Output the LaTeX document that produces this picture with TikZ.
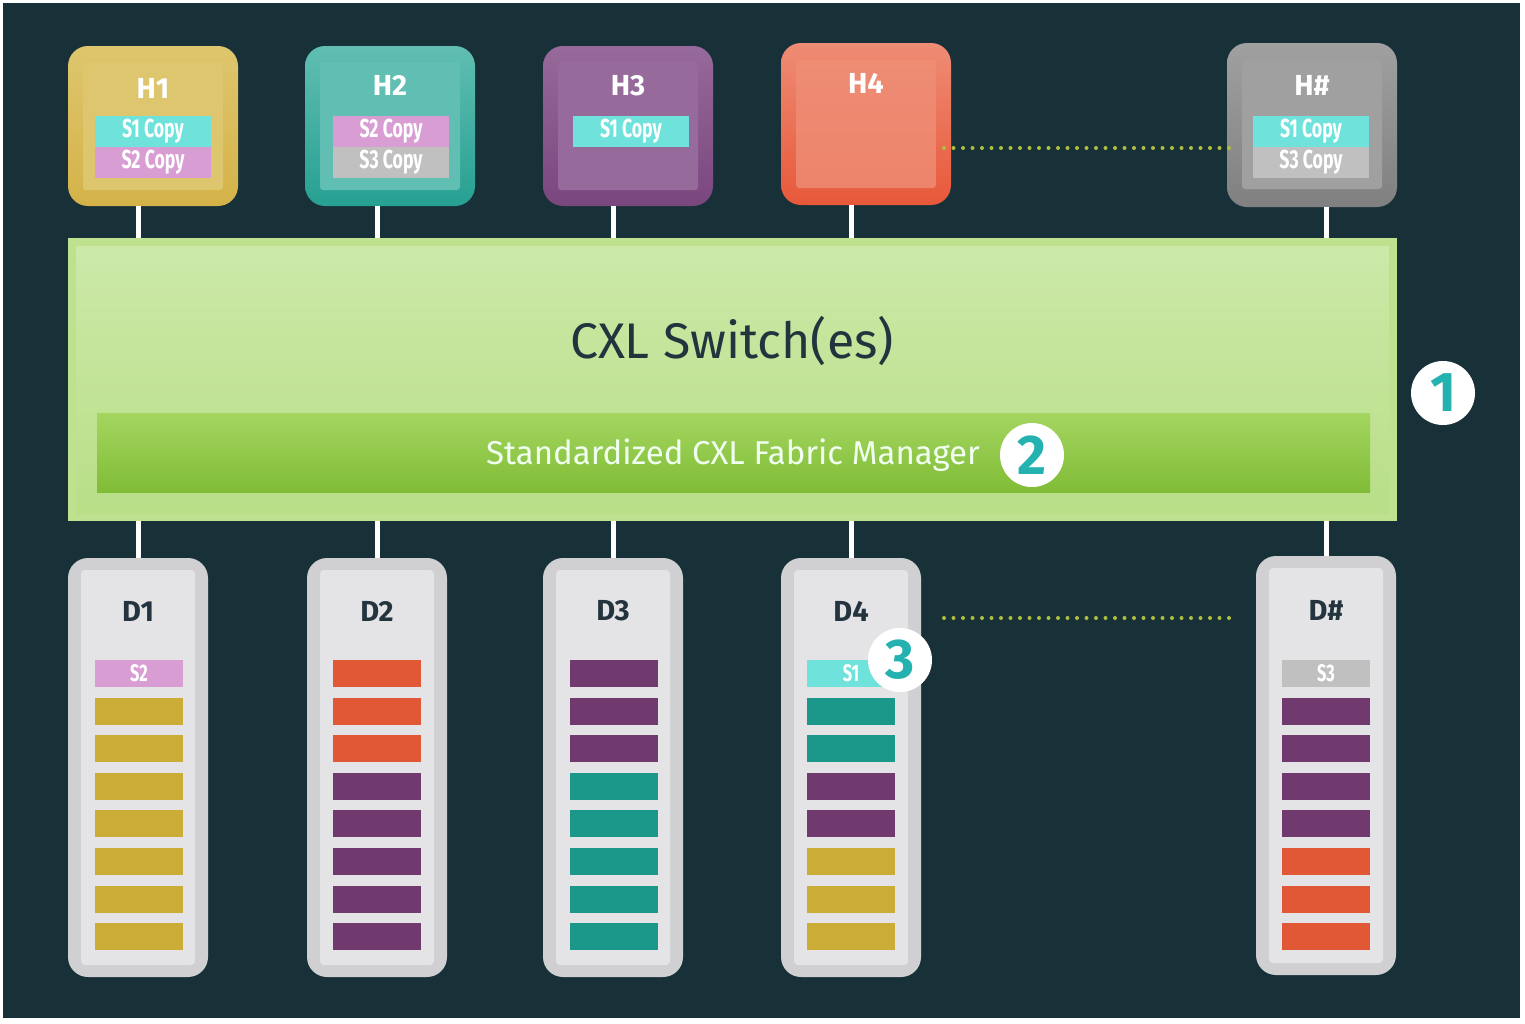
\documentclass[tikz,border=0pt]{standalone}
\usepackage{fontspec}
\setmainfont{Fira Sans}
\usetikzlibrary{positioning}
\definecolor{bgdark}{RGB}{24,49,56}
\definecolor{hyel}{RGB}{212,178,72}
\definecolor{hyelin}{RGB}{222,198,110}
\definecolor{hteal}{RGB}{38,160,146}
\definecolor{htealin}{RGB}{96,190,178}
\definecolor{hpur}{RGB}{122,70,126}
\definecolor{hpurin}{RGB}{150,106,154}
\definecolor{hred}{RGB}{232,88,58}
\definecolor{hredin}{RGB}{238,140,116}
\definecolor{hgray}{RGB}{128,128,128}
\definecolor{hgrayin}{RGB}{160,160,160}
\definecolor{scyan}{RGB}{112,226,220}
\definecolor{spink}{RGB}{216,158,212}
\definecolor{sgray}{RGB}{192,192,192}
\definecolor{yl}{RGB}{202,172,54}
\definecolor{og}{RGB}{224,88,54}
\definecolor{pu}{RGB}{112,58,110}
\definecolor{te}{RGB}{28,152,138}
\definecolor{devout}{RGB}{208,208,210}
\definecolor{devin}{RGB}{228,228,230}
\definecolor{swtop}{RGB}{204,233,168}
\definecolor{swbot}{RGB}{176,218,122}
\definecolor{fmtop}{RGB}{164,214,96}
\definecolor{fmbot}{RGB}{128,188,54}
\definecolor{inkdark}{RGB}{36,52,62}
\definecolor{badgeink}{RGB}{36,178,176}
\definecolor{dotcol}{RGB}{176,190,64}
\newcommand\cond[1]{\scalebox{0.68}[1]{#1}}
\begin{document}
\begin{tikzpicture}[x=1pt,y=-1pt,
    host/.style={rounded corners=20pt, minimum width=170pt, minimum height=160pt, inner sep=0pt},
    hostin/.style={rounded corners=3pt, minimum width=140pt, minimum height=128pt, inner sep=0pt},
    hlabel/.style={text=white, font=\fontsize{29}{29}\selectfont\bfseries},
    strip/.style={minimum width=116pt, minimum height=31pt, inner sep=0pt, text=white,
        font=\fontsize{26}{26}\selectfont\bfseries},
    device/.style={rounded corners=20pt, fill=devout, minimum width=140pt, minimum height=419pt, inner sep=0pt},
    devicein/.style={rounded corners=4pt, fill=devin, minimum width=114pt, minimum height=395pt, inner sep=0pt},
    dlabel/.style={text=inkdark, font=\fontsize{29}{29}\selectfont\bfseries},
    slotlab/.style={minimum width=88pt, minimum height=27pt, inner sep=0pt, text=white,
        font=\fontsize{24}{24}\selectfont\bfseries},
    badge/.style={circle, fill=white, minimum size=64pt, inner sep=0pt, text=badgeink,
        font=\fontsize{56}{56}\selectfont\bfseries},
    link/.style={white, line width=5pt},
    dots/.style={dotcol, line width=4pt, line cap=round, dash pattern=on 0pt off 9.5pt}]
\useasboundingbox (0,0) rectangle (1525,1023);
\fill[white] (0,0) rectangle (1525,1023);
\fill[bgdark] (3,3) rectangle (1520,1018);

% hosts
\node[host, top color=hyelin, bottom color=hyel] (h1) at (153,126) {};
\node[hostin, fill=hyelin] at (153,126) {};
\node[host, top color=htealin, bottom color=hteal] (h2) at (390,126) {};
\node[hostin, fill=htealin] at (390,126) {};
\node[host, top color=hpurin, bottom color=hpur] (h3) at (628,126) {};
\node[hostin, fill=hpurin] at (628,126) {};
\node[host, top color=hredin, bottom color=hred, minimum height=162pt] (h4) at (866,124) {};
\node[hostin, top color=hredin, bottom color=hredin!85!hred] at (866,124) {};
\node[host, top color=hgrayin, bottom color=hgray, minimum height=164pt] (hx) at (1312,125) {};
\node[hostin, fill=hgrayin] at (1312,125) {};

\node[hlabel] (h1l) at (153,88) {H1};
\node[hlabel] (h2l) at (390,85) {H2};
\node[hlabel] (h3l) at (628,86) {H3};
\node[hlabel] (h4l) at (866,83) {H4};
\node[hlabel] (hxl) at (1312,85) {H\#};

\node[strip, fill=scyan] (h1a) at (153,131) {\cond{S1 Copy}};
\node[strip, fill=spink] (h1b) at (153,162) {\cond{S2 Copy}};
\node[strip, fill=spink] (h2a) at (391,131) {\cond{S2 Copy}};
\node[strip, fill=sgray] (h2b) at (391,162) {\cond{S3 Copy}};
\node[strip, fill=scyan] (h3a) at (631,131) {\cond{S1 Copy}};
\node[strip, fill=scyan] (hxa) at (1311,131) {\cond{S1 Copy}};
\node[strip, fill=sgray] (hxb) at (1311,162) {\cond{S3 Copy}};

% switch
\node[minimum width=1329pt, minimum height=283pt, inner sep=0pt, fill=swbot!55!swtop] (sw) at (732.5,379.5) {};
\node[minimum width=1313pt, minimum height=267pt, inner sep=0pt, top color=swtop, bottom color=swbot!70!swtop] at (732.5,379.5) {};
\node[minimum width=1273pt, minimum height=79pt, inner sep=0pt, top color=fmtop, bottom color=fmbot] (fm) at (733.5,452.5) {};
\node[text=inkdark, font=\fontsize{50}{50}\selectfont] (swl) at (732,341) {CXL Switch(es)};
\node[text=white!94!green, font=\fontsize{33}{33}\selectfont] (fml) at (733,455) {Standardized CXL Fabric Manager};

% devices
\node[device] (d1) at (138,767.5) {};
\node[devicein] at (138,767.5) {};
\node[device] (d2) at (377,767.5) {};
\node[devicein] at (377,767.5) {};
\node[device] (d3) at (613,767.5) {};
\node[devicein] at (613,767.5) {};
\node[device] (d4) at (851,767.5) {};
\node[devicein] at (851,767.5) {};
\node[device] (dx) at (1326,765.5) {};
\node[devicein] at (1326,765.5) {};

\node[dlabel] (d1l) at (138,611) {D1};
\node[dlabel] (d2l) at (377,611) {D2};
\node[dlabel] (d3l) at (613,611) {D3};
\node[dlabel] (d4l) at (851,611) {D4};
\node[dlabel] (dxl) at (1326,610) {D\#};

\foreach \dx/\cols in {139/{spink,yl,yl,yl,yl,yl,yl,yl},
        377/{og,og,og,pu,pu,pu,pu,pu},
        614/{pu,pu,pu,te,te,te,te,te},
        851/{scyan,te,te,pu,pu,yl,yl,yl},
        1326/{sgray,pu,pu,pu,pu,og,og,og}}
    \foreach \c [count=\i from 0] in \cols
        \fill[\c] (\dx-44,660+37.6*\i) rectangle (\dx+44,687+37.6*\i);
\node[slotlab] (s2) at (139,673.5) {\cond{S2}};
\node[slotlab] (s1) at (851,673.5) {\cond{S1}};
\node[slotlab] (s3) at (1326,673.5) {\cond{S3}};

% links
\foreach \h/\d in {h1/d1,h2/d2,h3/d3,h4/d4,hx/dx} {
    \draw[link] (\h.south -| \d.north) -- (sw.north -| \d.north);
    \draw[link] (sw.south -| \d.north) -- (\d.north);
}

% dotted
\coordinate (ta) at (944,148);
\coordinate (tb) at (1232,148);
\coordinate (ba) at (944,618);
\coordinate (bb) at (1232,618);
\draw[dots] (ta) -- (tb);
\draw[dots] (ba) -- (bb);

% badges
\node[badge] (b1) at (1443,393) {1};
\node[badge] (b2) at (1032,455) {2};
\node[badge] (b3) at (900,660) {3};
\end{tikzpicture}
\end{document}
